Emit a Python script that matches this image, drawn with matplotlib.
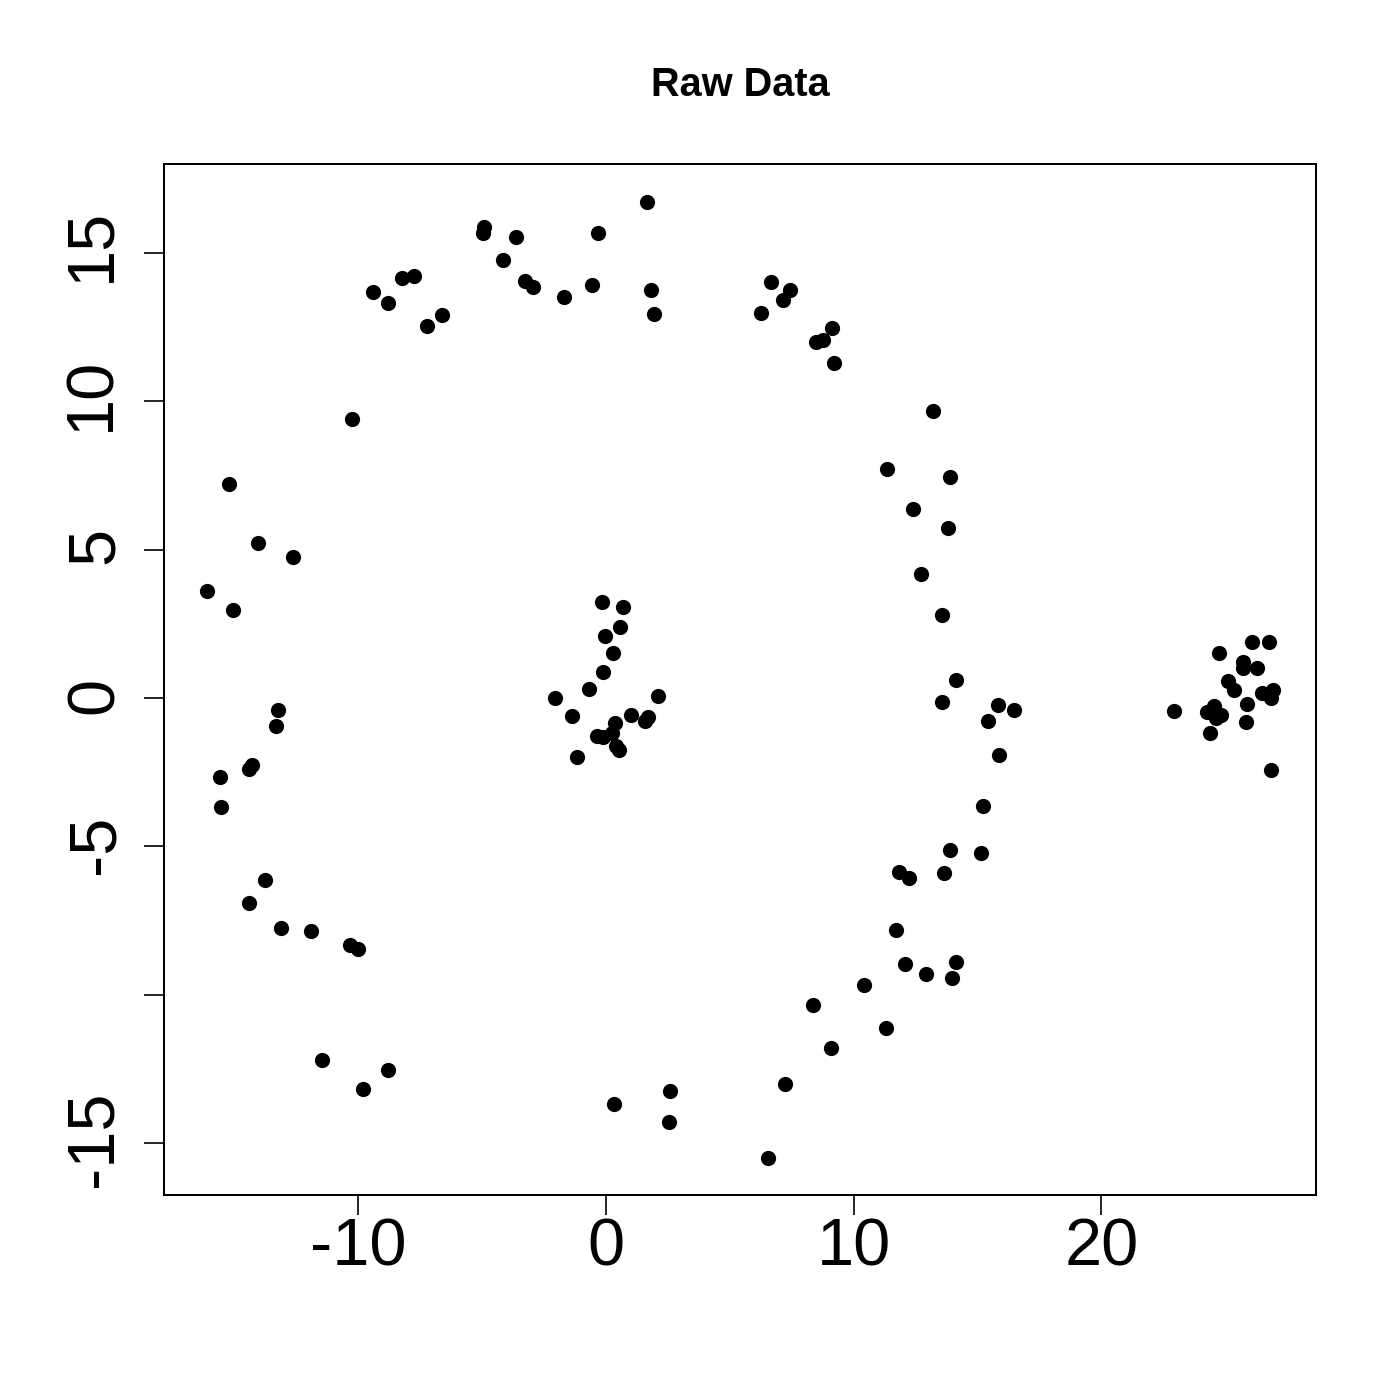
import matplotlib
matplotlib.use("Agg")
import matplotlib.pyplot as plt
from matplotlib.transforms import ScaledTranslation

x_values = [1.66,-4.93,-4.97,-0.32,-3.63,-4.16,-7.75,-8.24,-9.41,-8.80,-3.27,-2.95,-1.70,-0.57,1.82,1.94,-6.62,-7.23,
6.66,7.43,7.15,6.26,9.12,8.48,8.76,9.20,13.20,-10.25,11.34,13.89,-15.22,12.39,13.81,-14.05,-12.64,12.72,-16.11,-15.06,13.56,
-0.16,0.69,0.57,-0.04,0.28,-0.12,-0.69,-2.06,2.10,-1.37,1.01,1.70,1.57,0.36,0.24,-0.12,-0.36,0.40,0.52,-1.17,
-13.24,-13.32,-14.29,-14.41,-15.58,-15.54,-13.77,-14.41,-13.12,-11.91,-10.34,-10.01,-11.47,-8.80,-9.81,0.32,2.58,2.54,6.54,7.23,
9.08,11.30,8.36,10.42,12.07,12.92,14.13,13.97,11.71,11.83,12.23,13.65,13.89,15.14,15.22,15.87,15.42,15.83,16.47,13.56,14.13,
22.93,24.26,24.55,24.63,24.83,24.38,24.75,25.11,25.35,25.72,25.72,26.08,26.77,26.28,25.88,25.84,26.48,26.93,26.85,26.85]
y_values = [16.72,15.87,15.67,15.67,15.54,14.76,14.22,14.16,13.68,13.31,14.05,13.85,13.52,13.92,13.75,12.94,12.91,12.54,
14.02,13.75,13.41,12.98,12.47,12.0,12.07,11.29,9.67,9.40,7.72,7.45,7.21,6.37,5.73,5.22,4.75,4.18,3.61,2.97,2.80,
3.24,3.07,2.39,2.09,1.52,0.88,0.30,0.0,0.07,-0.61,-0.57,-0.64,-0.78,-0.84,-1.18,-1.31,-1.28,-1.62,-1.75,-1.99,
-0.40,-0.94,-2.26,-2.39,-2.66,-3.67,-6.13,-6.91,-7.75,-7.85,-8.32,-8.46,-12.20,-12.54,-13.18,-13.68,-13.25,-14.29,-15.50,-13.01,
-11.80,-11.12,-10.35,-9.67,-8.97,-9.30,-8.90,-9.44,-7.82,-5.86,-6.07,-5.90,-5.12,-5.22,-3.64,-1.92,-0.78,-0.24,-0.40,-0.13,0.61,
-0.44,-0.47,-0.27,-0.67,-0.57,-1.18,1.52,0.57,0.27,1.21,1.01,1.89,1.89,1.01,-0.20,-0.81,0.17,0.27,0.0,-2.43]
x_ticks = [-10, 0, 10, 20]
x_tick_labels = ["-10", "0", "10", "20"]
y_ticks = [-15, -10, -5, 0, 5, 10, 15]
y_tick_labels = ["-15", "", "-5", "0", "5", "10", "15"]

plt.rcParams["font.family"] = ["Liberation Sans", "DejaVu Sans"]
fig = plt.figure(figsize=(7, 7), dpi=200)
W = H = 1400.0
ax = fig.add_axes([164/W, 1 - 1195/H, (1316-164)/W, (1195-164)/H])
ax.scatter(x_values, y_values, s=30, c="black", linewidths=0, zorder=3, clip_on=False)
ax.set_xlim(-17.84, 28.66)
ax.set_ylim(-16.75, 18.0)
ax.set_xticks(x_ticks, x_tick_labels)
ax.set_yticks(y_ticks, y_tick_labels)
ax.tick_params(axis="x", length=7.2, width=0.6, labelsize=24.0, pad=1.0)
ax.tick_params(axis="y", length=7.2, width=0.6, labelsize=24.0, pad=7.5)
# Per-label nudges in pixels, to sit the rotated glyphs where the reference has them
nudges = [(2, 4), (0, 0), (4, 2), (4, 3), (4, 4), (0, 7), (0, 8)]
for t, (dx, dy) in zip(ax.get_yticklabels(), nudges):
    t.set_rotation(90)
    t.set_va("center")
    t.set_transform(t.get_transform() + ScaledTranslation(dx/200, dy/200, fig.dpi_scale_trans))
for s in ax.spines.values():
    s.set_linewidth(0.72)
fig.text(740/W, 1 - 85/H, "Raw Data", fontsize=14.3, fontweight="bold", ha="center", va="center")
fig.savefig("out.png", dpi=200)
